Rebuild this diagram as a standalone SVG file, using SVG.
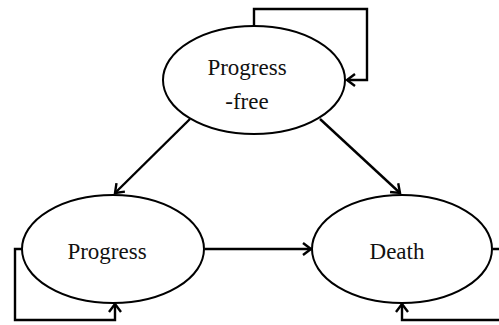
<svg xmlns="http://www.w3.org/2000/svg" width="499" height="325" viewBox="0 0 499 325">
<style>
.node ellipse{fill:#fff;stroke:#000;stroke-width:2}
.node text{font-family:"Liberation Serif","Times New Roman",serif;font-size:23px;fill:#111;text-anchor:middle}
.edge{fill:none;stroke:#000;stroke-width:2.4;marker-end:url(#arr)}
</style>
<defs>
<marker id="arr" markerUnits="userSpaceOnUse" markerWidth="14" markerHeight="14" refX="10" refY="6" orient="auto" overflow="visible">
<path d="M2,0 L10,6 L2,12" fill="none" stroke="#000" stroke-width="2.4"/>
</marker>
</defs>
<rect width="499" height="325" fill="#fff"/>
<g id="connectors">
<path class="edge" d="M254,26 V9 H367 V80 H347"/>
<path class="edge" d="M190,119 L115,193"/>
<path class="edge" d="M320,119 L400,193"/>
<path class="edge" d="M205,249 H311"/>
<path class="edge" d="M23,249 H15 V320 H115 V304"/>
<path class="edge" d="M493,249 H505 V320 H402 V304"/>
</g>
<g id="progress-free" class="node">
<ellipse cx="254" cy="80" rx="91" ry="54"/>
<text x="247" y="75">Progress</text>
<text x="247" y="109">-free</text>
</g>
<g id="progress" class="node">
<ellipse cx="113" cy="249" rx="91" ry="54"/>
<text x="107" y="259">Progress</text>
</g>
<g id="death" class="node">
<ellipse cx="402" cy="249" rx="90" ry="54"/>
<text x="397" y="259">Death</text>
</g>
</svg>
